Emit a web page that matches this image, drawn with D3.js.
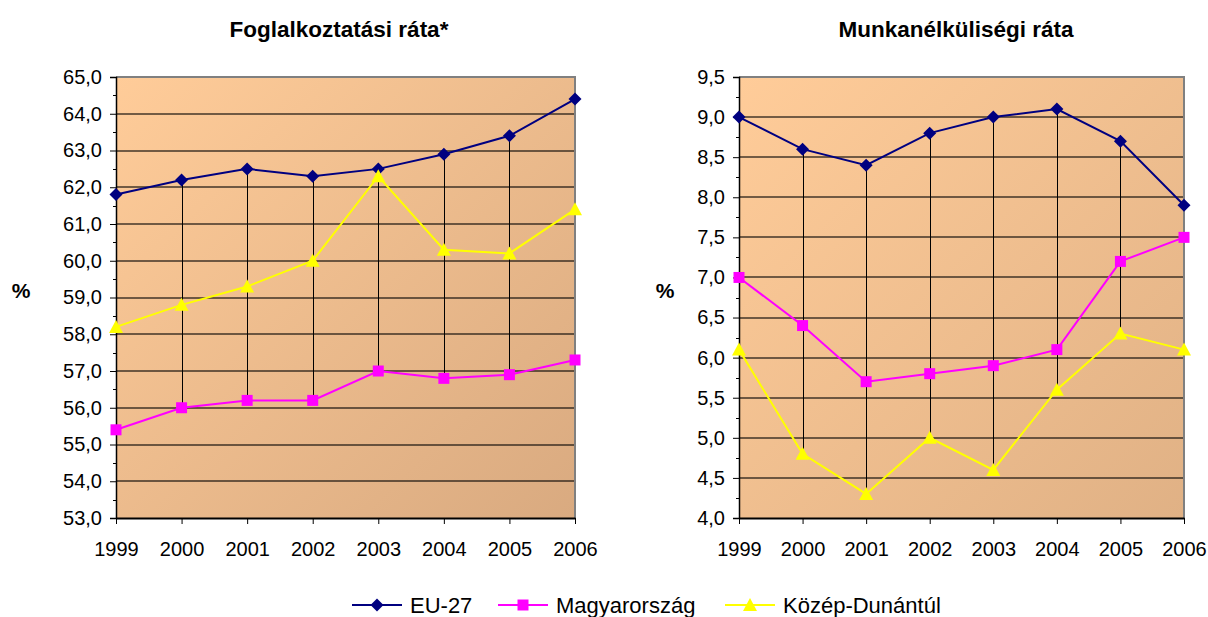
<!DOCTYPE html>
<html>
<head>
<meta charset="utf-8">
<script src="https://cdn.jsdelivr.net/npm/d3@7"></script>
<style>
  html, body { margin: 0; padding: 0; background: #fff; }
  svg { display: block; font-family: "Liberation Sans", Arial, sans-serif; }
</style>
</head>
<body>
<svg id="chart" width="1208" height="617"></svg>
<script>
const years = ["1999", "2000", "2001", "2002", "2003", "2004", "2005", "2006"];
const seriesNames = ["EU-27", "Magyarország", "Közép-Dunántúl"];
const seriesColors = ["#000080", "#FF00FF", "#FFFF00"];
const seriesSymbols = ["diamond", "square", "triangle"];

const empTitle = "Foglalkoztatási ráta*";
const empEU = [61.8, 62.2, 62.5, 62.3, 62.5, 62.9, 63.4, 64.4];
const empHU = [55.4, 56.0, 56.2, 56.2, 57.0, 56.8, 56.9, 57.3];
const empKD = [58.2, 58.8, 59.3, 60.0, 62.3, 60.3, 60.2, 61.4];
const empTicks = [53, 54, 55, 56, 57, 58, 59, 60, 61, 62, 63, 64, 65];

const unTitle = "Munkanélküliségi ráta";
const unEU = [9.0, 8.6, 8.4, 8.8, 9.0, 9.1, 8.7, 7.9];
const unHU = [7.0, 6.4, 5.7, 5.8, 5.9, 6.1, 7.2, 7.5];
const unKD = [6.1, 4.8, 4.3, 5.0, 4.6, 5.6, 6.3, 6.1];
const unTicks = [4.0, 4.5, 5.0, 5.5, 6.0, 6.5, 7.0, 7.5, 8.0, 8.5, 9.0, 9.5];

const svg = d3.select("#chart");
const fmt = v => d3.format(".1f")(v).replace(".", ",");

function symbolPath(name) {
  if (name === "diamond") return "M0,-6.5L6.5,0L0,6.5L-6.5,0Z";
  if (name === "square") return "M-5.5,-5.5H5.5V5.5H-5.5Z";
  return "M0,-7L7,6L-7,6Z";
}

function drawPanel(cfg) {
  const g = svg.append("g");
  const x = d3.scalePoint().domain(years).range([cfg.x0, cfg.x1]);
  const y = d3.scaleLinear().domain([cfg.ticks[0], cfg.ticks[cfg.ticks.length - 1]]).range([cfg.yBot, cfg.yTop]);

  const gradId = "grad" + cfg.id;
  const defs = svg.append("defs");
  const grad = defs.append("linearGradient").attr("id", gradId)
    .attr("x1", 0).attr("y1", 0).attr("x2", 1).attr("y2", 1);
  grad.append("stop").attr("offset", "0%").attr("stop-color", "#FFCC99");
  grad.append("stop").attr("offset", "100%").attr("stop-color", cfg.endColor);

  g.append("rect").attr("x", cfg.x0).attr("y", cfg.yTop)
    .attr("width", cfg.x1 - cfg.x0).attr("height", cfg.yBot - cfg.yTop)
    .attr("fill", `url(#${gradId})`);

  // gridlines
  g.selectAll(".grid").data(cfg.ticks.slice(1)).enter().append("line")
    .attr("x1", cfg.x0).attr("x2", cfg.x1)
    .attr("y1", d => Math.round(y(d))).attr("y2", d => Math.round(y(d)))
    .attr("stroke", "#000").attr("stroke-opacity", 0.55).attr("stroke-width", 2);

  const all = [cfg.a, cfg.b, cfg.c];
  // high-low lines
  g.selectAll(".hl").data(years).enter().append("line")
    .attr("x1", d => Math.round(x(d)) + 0.5).attr("x2", d => Math.round(x(d)) + 0.5)
    .attr("y1", (d, i) => y(d3.max(all, s => s[i])))
    .attr("y2", (d, i) => y(d3.min(all, s => s[i])))
    .attr("stroke", "#000").attr("stroke-width", 1);

  // top and right border
  g.append("path")
    .attr("d", `M${cfg.x0},${cfg.yTop} H${cfg.x1} V${cfg.yBot}`)
    .attr("fill", "none").attr("stroke", "#808080").attr("stroke-width", 2);

  // y axis
  const yAxis = d3.axisLeft(y).tickValues(cfg.ticks).tickFormat(fmt).tickSize(6).tickPadding(8);
  const ya = g.append("g").attr("transform", `translate(${cfg.x0},0)`).call(yAxis);
  ya.select(".domain").attr("stroke", "#000").attr("stroke-width", 1.5);
  ya.selectAll("text").attr("font-size", 20).attr("fill", "#000");
  // minor ticks
  const minor = [];
  for (let i = 0; i < cfg.ticks.length - 1; i++) minor.push((cfg.ticks[i] + cfg.ticks[i + 1]) / 2);
  g.selectAll(".minor").data(minor).enter().append("line")
    .attr("x1", cfg.x0 - 3).attr("x2", cfg.x0)
    .attr("y1", d => Math.round(y(d)) + 0.5).attr("y2", d => Math.round(y(d)) + 0.5)
    .attr("stroke", "#000").attr("stroke-width", 1);

  // x axis
  const xAxis = d3.axisBottom(x).tickSize(6).tickPadding(18).tickSizeOuter(0);
  const xa = g.append("g").attr("transform", `translate(0,${cfg.yBot})`).call(xAxis);
  xa.select(".domain").attr("stroke", "#000").attr("stroke-width", 2);
  xa.selectAll("text").attr("font-size", 20).attr("fill", "#000");

  // series
  all.forEach((s, k) => {
    const line = d3.line().x((d, i) => x(years[i])).y(d => y(d));
    g.append("path").datum(s).attr("d", line).attr("fill", "none")
      .attr("stroke", seriesColors[k]).attr("stroke-width", 2);
  });
  all.forEach((s, k) => {
    g.selectAll(".m" + k).data(s).enter().append("path")
      .attr("d", symbolPath(seriesSymbols[k]))
      .attr("transform", (d, i) => `translate(${x(years[i])},${y(d)})`)
      .attr("fill", seriesColors[k]);
  });

  // title
  g.append("text").attr("x", cfg.titleX).attr("y", 37).attr("text-anchor", "middle")
    .attr("font-size", 22.5).attr("font-weight", "bold").text(cfg.title);
  // % label
  g.append("text").attr("x", cfg.pctX).attr("y", 298).attr("text-anchor", "middle")
    .attr("font-size", 21).attr("font-weight", "bold").text("%");
}

drawPanel({ id: 1, x0: 116, x1: 575, yTop: 77, yBot: 518, ticks: empTicks,
  a: empEU, b: empHU, c: empKD, title: empTitle, titleX: 339, pctX: 21, endColor: "#D9AA80" });
drawPanel({ id: 2, x0: 739, x1: 1184, yTop: 77, yBot: 518, ticks: unTicks,
  a: unEU, b: unHU, c: unKD, title: unTitle, titleX: 956, pctX: 665, endColor: "#E0B185" });

// legend
const legendX = [352, 498, 725];
const lg = svg.append("g");
seriesNames.forEach((n, k) => {
  const x0 = legendX[k];
  lg.append("line").attr("x1", x0).attr("x2", x0 + 50).attr("y1", 605).attr("y2", 605)
    .attr("stroke", seriesColors[k]).attr("stroke-width", 2);
  lg.append("path").attr("d", symbolPath(seriesSymbols[k]))
    .attr("transform", `translate(${x0 + 25},605)`)
    .attr("fill", seriesColors[k]);
  lg.append("text").attr("x", x0 + 58).attr("y", 613).attr("font-size", 22).text(n);
});
</script>
</body>
</html>
